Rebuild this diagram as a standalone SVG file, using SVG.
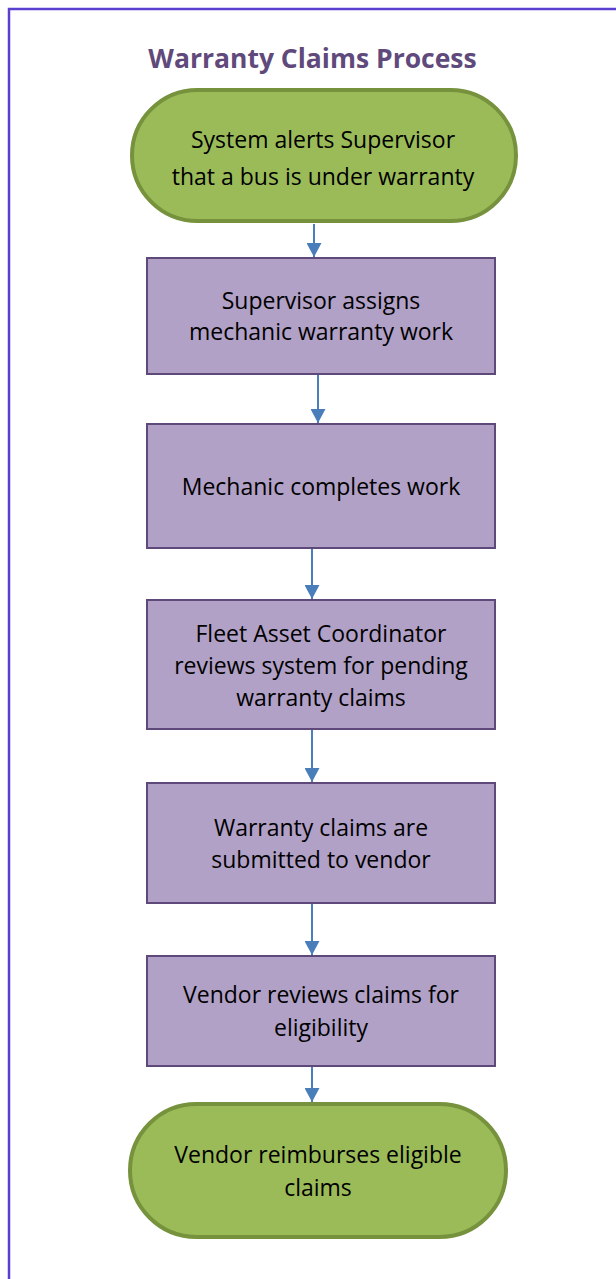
<svg xmlns="http://www.w3.org/2000/svg" width="616" height="1279" viewBox="0 0 616 1279">
<style>
.term{fill:#9bbb59;stroke:#76923c;stroke-width:4}
.box{fill:#b2a1c7;stroke:#5f497a;stroke-width:2}
.lbl{font-family:"Open Sans","Liberation Sans",sans-serif;font-size:23px;fill:#000;text-anchor:middle}
.title{font-family:"Open Sans","Liberation Sans",sans-serif;font-size:26.5px;font-weight:bold;fill:#604a7b;text-anchor:middle}
.conn{stroke:#4a7ebb;stroke-width:2;fill:none}
</style>
<defs>
<marker id="ah" viewBox="0 0 14 15" refX="14" refY="7.5" markerWidth="14" markerHeight="15" markerUnits="userSpaceOnUse" orient="auto">
<path d="M0,0 L14,7.5 L0,15 Z" fill="#4a7ebb"/>
</marker>
</defs>
<rect width="616" height="1279" fill="#fff"/>
<path d="M9,1290 V9 H630" fill="none" stroke="#5b40cf" stroke-width="2.5"/>
<text class="title" x="312.5" y="68">Warranty Claims Process</text>
<g id="connectors">
<line class="conn" x1="314" y1="224" x2="314" y2="257" marker-end="url(#ah)"/>
<line class="conn" x1="318" y1="375" x2="318" y2="423" marker-end="url(#ah)"/>
<line class="conn" x1="312" y1="549" x2="312" y2="599" marker-end="url(#ah)"/>
<line class="conn" x1="312" y1="730" x2="312" y2="782" marker-end="url(#ah)"/>
<line class="conn" x1="312" y1="904" x2="312" y2="955" marker-end="url(#ah)"/>
<line class="conn" x1="312" y1="1067" x2="312" y2="1102" marker-end="url(#ah)"/>
</g>
<g id="n1">
<rect class="term" x="132" y="90" width="384" height="131" rx="65.5"/>
<text class="lbl" x="323" y="148">System alerts Supervisor</text>
<text class="lbl" x="323" y="185">that a bus is under warranty</text>
</g>
<g id="n2">
<rect class="box" x="147" y="258" width="348" height="116"/>
<text class="lbl" x="321" y="309">Supervisor assigns</text>
<text class="lbl" x="321" y="340">mechanic warranty work</text>
</g>
<g id="n3">
<rect class="box" x="147" y="424" width="348" height="124"/>
<text class="lbl" x="321" y="495">Mechanic completes work</text>
</g>
<g id="n4">
<rect class="box" x="147" y="600" width="348" height="129"/>
<text class="lbl" x="321" y="642">Fleet Asset Coordinator</text>
<text class="lbl" x="321" y="674">reviews system for pending</text>
<text class="lbl" x="321" y="706">warranty claims</text>
</g>
<g id="n5">
<rect class="box" x="147" y="783" width="348" height="120"/>
<text class="lbl" x="321" y="836">Warranty claims are</text>
<text class="lbl" x="321" y="868">submitted to vendor</text>
</g>
<g id="n6">
<rect class="box" x="147" y="956" width="348" height="110"/>
<text class="lbl" x="321" y="1003">Vendor reviews claims for</text>
<text class="lbl" x="321" y="1036">eligibility</text>
</g>
<g id="n7">
<rect class="term" x="130" y="1104" width="376" height="133" rx="66.5"/>
<text class="lbl" x="318" y="1163">Vendor reimburses eligible</text>
<text class="lbl" x="318" y="1196">claims</text>
</g>
</svg>
